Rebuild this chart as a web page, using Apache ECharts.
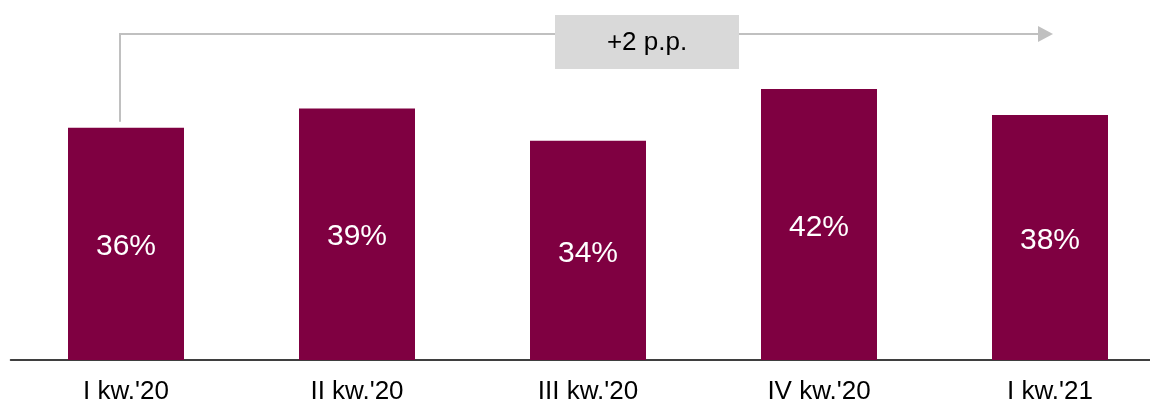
<!DOCTYPE html>
<html>
<head>
<meta charset="utf-8">
<script src="https://cdn.jsdelivr.net/npm/echarts@6/dist/echarts.min.js"></script>
<style>
  html, body { margin: 0; padding: 0; background: #fff; }
  #chart { width: 1150px; height: 404px; }
</style>
</head>
<body>
<div id="chart"></div>
<script>
// Quarterly shares (%)
const quarters = ["I kw.'20", "II kw.'20", "III kw.'20", "IV kw.'20", "I kw.'21"];
const shares = [36, 39, 34, 42, 38];

const FONT = '"Liberation Sans", Arial, Helvetica, sans-serif';
const chart = echarts.init(document.getElementById('chart'), null, { renderer: 'canvas' });

chart.setOption({
  animation: false,
  // plot area runs slightly past the right edge so the last bar sits like the others
  grid: {
    left: 10.5, width: 1155, top: 37.5, bottom: 44,
    containLabel: false,
    outerBoundsMode: 'none'
  },
  xAxis: {
    type: 'category',
    data: quarters,
    axisLine: { show: true, lineStyle: { color: '#000', width: 1.5 } },
    axisTick: { show: false },
    axisLabel: { color: '#000', fontSize: 26, fontFamily: FONT, margin: 19 }
  },
  yAxis: {
    type: 'value',
    min: 0,
    max: 50,
    show: false,
    splitLine: { show: false }
  },
  series: [{
    type: 'bar',
    data: shares,
    barWidth: 116,
    itemStyle: { color: '#7f0041' },
    label: {
      show: true,
      position: 'inside',
      offset: [0, 3],
      color: '#fff',
      fontSize: 30,
      fontFamily: FONT,
      formatter: p => p.value + '%'
    }
  }]
});

// Change annotation: bracket arrow from the first to the last quarter
function drawAnnotation() {
  const first = chart.convertToPixel({ seriesIndex: 0 }, [0, shares[0]]);
  const last = chart.convertToPixel({ seriesIndex: 0 }, [quarters.length - 1, shares[shares.length - 1]]);
  const x0 = first[0] - 6;
  const y0 = first[1] - 6;
  const yTop = 34;
  const xEnd = last[0] + 3;
  const diff = shares[shares.length - 1] - shares[0];
  const grey = '#c0c0c0';
  chart.setOption({
    graphic: [
      {
        type: 'polyline',
        shape: { points: [[x0, y0], [x0, yTop], [xEnd - 15, yTop]] },
        style: { stroke: grey, lineWidth: 2, fill: null }
      },
      {
        type: 'polygon',
        shape: { points: [[xEnd - 15, yTop - 8], [xEnd, yTop], [xEnd - 15, yTop + 8]] },
        style: { fill: grey }
      },
      {
        type: 'rect',
        shape: { x: 555, y: 15, width: 184, height: 54 },
        style: { fill: '#d9d9d9' }
      },
      {
        type: 'text',
        x: 647, y: 43,
        style: {
          text: (diff >= 0 ? '+' : '') + diff + ' p.p.',
          fill: '#000',
          font: '26px ' + FONT,
          align: 'center',
          verticalAlign: 'middle'
        }
      }
    ]
  });
}
drawAnnotation();
</script>
</body>
</html>
